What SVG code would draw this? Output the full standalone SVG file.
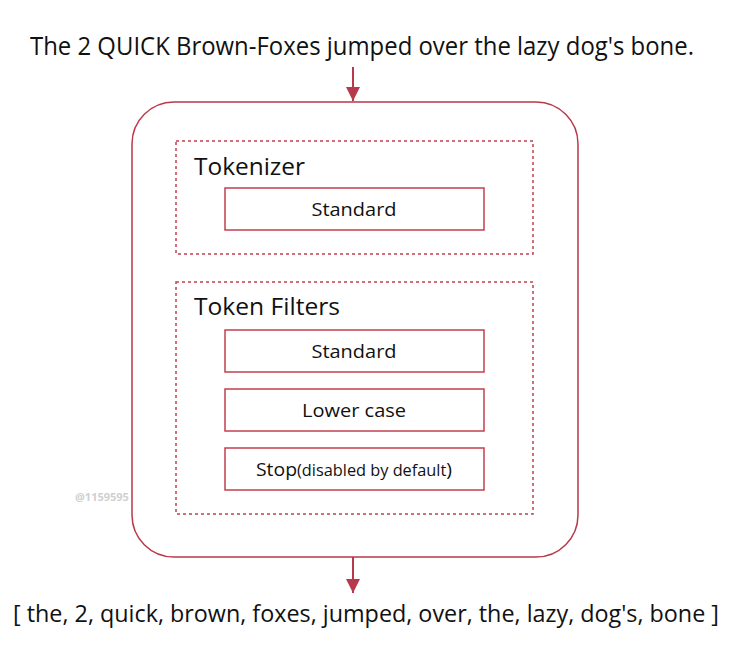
<svg xmlns="http://www.w3.org/2000/svg" width="753" height="663" viewBox="0 0 753 663">
<style>
  text { font-family: "Open Sans", "Liberation Sans", sans-serif; fill: #111; }
  .big { font-size: 25px; }
  .out { font-size: 24px; }
  .hdr { font-size: 24px; }
  .lbl { font-size: 19px; text-anchor: middle; }
  .dash { fill: none; stroke: #c0404f; stroke-width: 1.5; stroke-dasharray: 3 3; }
  .box { fill: #fff; stroke: #c0404f; stroke-width: 1.5; }
  .conn { stroke: #b8394a; stroke-width: 2; fill: none; }
</style>
<defs>
  <marker id="ah" viewBox="0 0 10 10" refX="10" refY="5" markerWidth="15" markerHeight="14" markerUnits="userSpaceOnUse" orient="auto">
    <path d="M0,0 L10,5 L0,10 z" fill="#b8394a"/>
  </marker>
</defs>
<rect width="753" height="663" fill="#fff"/>
<text id="input" class="big" x="362" y="55" text-anchor="middle" textLength="664" lengthAdjust="spacingAndGlyphs">The 2 QUICK Brown-Foxes jumped over the lazy dog's bone.</text>
<g id="connectors">
  <path class="conn" d="M353,67 V101" marker-end="url(#ah)"/>
  <path class="conn" d="M353,557 V593" marker-end="url(#ah)"/>
</g>
<g id="analyzer">
  <rect x="132" y="102" width="446" height="455" rx="42" ry="42" fill="none" stroke="#b8394a" stroke-width="1.5"/>
</g>
<g id="tokenizer">
  <rect class="dash" x="176" y="141" width="357" height="113"/>
  <text class="hdr" x="194" y="175" textLength="111" lengthAdjust="spacingAndGlyphs">Tokenizer</text>
</g>
<g id="tok-standard">
  <rect class="box" x="225" y="188" width="259" height="42"/>
  <text class="lbl" x="354" y="216" textLength="85" lengthAdjust="spacingAndGlyphs">Standard</text>
</g>
<g id="token-filters">
  <rect class="dash" x="176" y="282" width="357" height="232"/>
  <text class="hdr" x="194" y="315" textLength="146" lengthAdjust="spacingAndGlyphs">Token Filters</text>
</g>
<g id="filter-standard">
  <rect class="box" x="225" y="330" width="259" height="42"/>
  <text class="lbl" x="354" y="358" textLength="85" lengthAdjust="spacingAndGlyphs">Standard</text>
</g>
<g id="filter-lowercase">
  <rect class="box" x="225" y="389" width="259" height="42"/>
  <text class="lbl" x="354" y="417" textLength="104" lengthAdjust="spacingAndGlyphs">Lower case</text>
</g>
<g id="filter-stop">
  <rect class="box" x="225" y="448" width="259" height="42"/>
  <text class="lbl" x="354" y="476" textLength="196" lengthAdjust="spacingAndGlyphs">Stop<tspan font-size="16">(disabled by default</tspan>)</text>
</g>
<text x="75" y="501" font-size="11" font-weight="bold" style="fill:#d0d0d0">@1159595</text>
<text id="output" class="out" x="366" y="622" text-anchor="middle" textLength="706" lengthAdjust="spacingAndGlyphs">[ the, 2, quick, brown, foxes, jumped, over, the, lazy, dog's, bone ]</text>
</svg>
